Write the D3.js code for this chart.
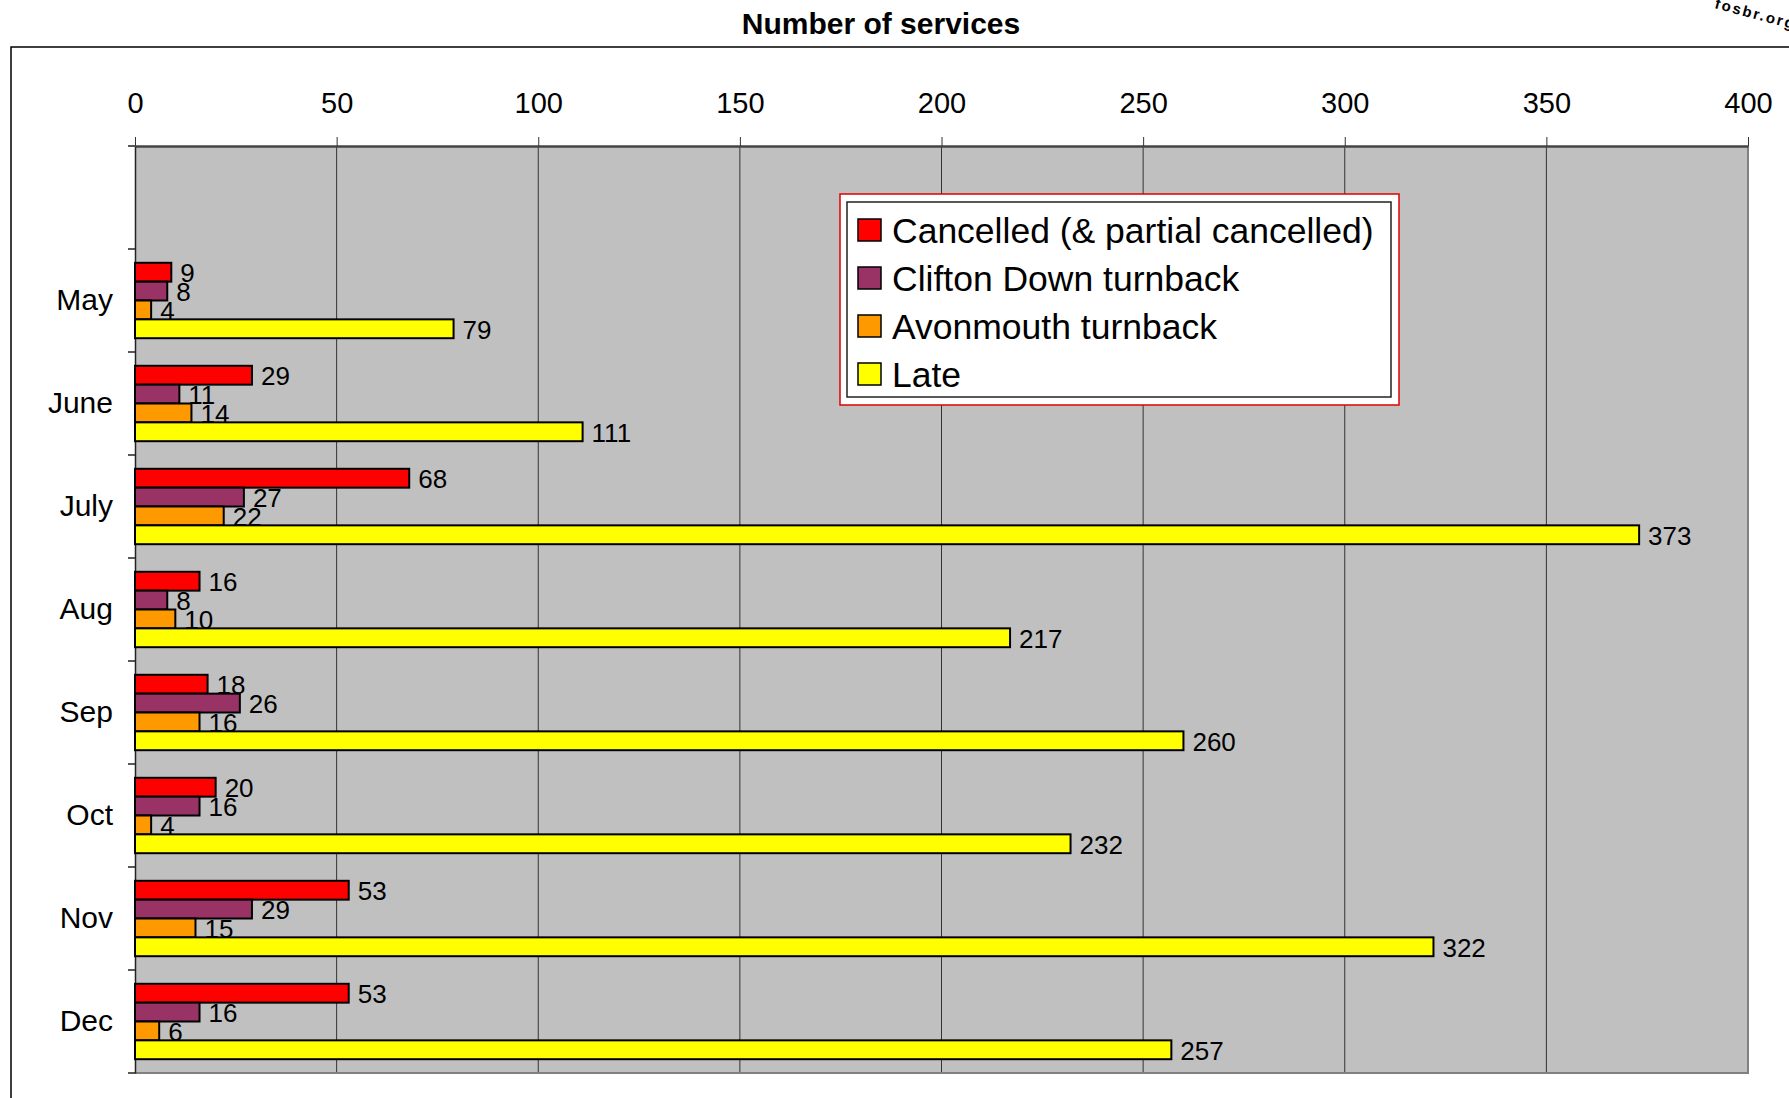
<!DOCTYPE html>
<html>
<head>
<meta charset="utf-8">
<script src="https://cdn.jsdelivr.net/npm/d3@7"></script>
<style>
  body { margin: 0; background: #fff; }
  svg { display: block; font-family: "Liberation Sans", Arial, sans-serif; }
</style>
</head>
<body>
<div id="chart"></div>
<script>
// data
var months = ["May", "June", "July", "Aug", "Sep", "Oct", "Nov", "Dec"];
var seriesNames = ["Cancelled (& partial cancelled)", "Clifton Down turnback", "Avonmouth turnback", "Late"];
var cancelled = [9, 29, 68, 16, 18, 20, 53, 53];
var clifton = [8, 11, 27, 8, 26, 16, 29, 16];
var avonmouth = [4, 14, 22, 10, 16, 4, 15, 6];
var late = [79, 111, 373, 217, 260, 232, 322, 257];
var xTicks = [0, 50, 100, 150, 200, 250, 300, 350, 400];
var colors = ["#FF0000", "#993366", "#FF9900", "#FFFF00"];

var series = [cancelled, clifton, avonmouth, late];

var W = 1789, H = 1098;
var margin = {top: 146, left: 135};
var plotW = 1613, plotH = 927;

var svg = d3.select("#chart").append("svg")
    .attr("width", W)
    .attr("height", H);

// outer frame
svg.append("path")
    .attr("d", "M11," + H + "V47H" + W)
    .attr("fill", "none")
    .attr("stroke", "#000")
    .attr("stroke-width", 1.5);

// title
svg.append("text")
    .attr("x", 881)
    .attr("y", 34)
    .attr("text-anchor", "middle")
    .style("font-weight", "bold")
    .style("font-size", "30px")
    .text("Number of services");

// watermark
svg.append("text")
    .attr("transform", "translate(1714,8) rotate(15)")
    .style("font-weight", "bold")
    .style("font-size", "15px")
    .style("letter-spacing", "2px")
    .text("fosbr.org");

var g = svg.append("g")
    .attr("transform", "translate(" + margin.left + "," + margin.top + ")");

var x = d3.scaleLinear()
    .domain([0, 400])
    .range([0, plotW]);

// first slot is the empty row of the sheet
var y = d3.scaleBand()
    .domain([""].concat(months))
    .range([0, plotH])
    .padding(0);

var inner = d3.scaleBand()
    .domain(d3.range(series.length))
    .range([y.bandwidth() * 0.134, y.bandwidth() * 0.866])
    .padding(0);

// plot background
g.append("rect")
    .attr("width", x(400))
    .attr("height", plotH)
    .attr("fill", "#C0C0C0");

// gridlines
g.selectAll(".grid")
    .data(xTicks.slice(1, -1))
    .enter().append("line")
    .attr("x1", function(d) { return x(d); })
    .attr("x2", function(d) { return x(d); })
    .attr("y1", 0)
    .attr("y2", plotH)
    .attr("stroke", "#333")
    .attr("stroke-width", 1);

// plot border right / bottom
g.append("path")
    .attr("d", "M" + x(400) + ",0V" + plotH + "H0")
    .attr("fill", "none")
    .attr("stroke", "#808080")
    .attr("stroke-width", 2);

// x axis on top
var xAxis = g.append("g")
    .call(d3.axisTop(x).tickValues(xTicks).tickSize(9).tickSizeOuter(0).tickPadding(24));
xAxis.select(".domain").attr("stroke", "#444").attr("stroke-width", 2.5);
xAxis.selectAll(".tick line").attr("stroke", "#333");
xAxis.selectAll("text")
    .style("font-size", "29px")
    .attr("fill", "#000");

// y axis
var yAxis = g.append("g")
    .call(d3.axisLeft(y).tickSize(0).tickPadding(22));
yAxis.select(".domain").attr("stroke", "#222").attr("stroke-width", 1.5);
yAxis.selectAll("text")
    .style("font-size", "30px")
    .attr("fill", "#000");

// category boundary ticks
var bounds = y.domain().map(function(d) { return y(d); }).concat([plotH]);
g.selectAll(".ytick")
    .data(bounds)
    .enter().append("line")
    .attr("x1", -7)
    .attr("x2", 0)
    .attr("y1", function(d) { return d; })
    .attr("y2", function(d) { return d; })
    .attr("stroke", "#222")
    .attr("stroke-width", 1.5);

// bars
series.forEach(function(vals, s) {
    var grp = g.append("g");
    grp.selectAll("rect")
        .data(vals)
        .enter().append("rect")
        .attr("x", 0)
        .attr("y", function(d, i) { return y(months[i]) + inner(s); })
        .attr("width", function(d) { return x(d); })
        .attr("height", inner.bandwidth())
        .attr("fill", colors[s])
        .attr("stroke", "#000")
        .attr("stroke-width", 2);
    grp.selectAll("text")
        .data(vals)
        .enter().append("text")
        .attr("x", function(d) { return x(d) + 9; })
        .attr("y", function(d, i) { return y(months[i]) + inner(s) + inner.bandwidth() / 2 + 1; })
        .attr("dominant-baseline", "central")
        .style("font-size", "26px")
        .text(function(d) { return d; });
});

// legend
var lg = svg.append("g").attr("transform", "translate(840,194)");
lg.append("rect")
    .attr("width", 559).attr("height", 211)
    .attr("fill", "#fff")
    .attr("stroke", "#E00000")
    .attr("stroke-width", 1.5);
lg.append("rect")
    .attr("x", 7).attr("y", 8)
    .attr("width", 544).attr("height", 195)
    .attr("fill", "#fff")
    .attr("stroke", "#222")
    .attr("stroke-width", 1.5);
var items = lg.selectAll(".item")
    .data(seriesNames)
    .enter().append("g")
    .attr("transform", function(d, i) { return "translate(18," + (36 + i * 48) + ")"; });
items.append("rect")
    .attr("x", 0).attr("y", -11)
    .attr("width", 23).attr("height", 22)
    .attr("fill", function(d, i) { return colors[i]; })
    .attr("stroke", "#000")
    .attr("stroke-width", 1.5);
items.append("text")
    .attr("x", 34)
    .attr("y", 1)
    .attr("dominant-baseline", "central")
    .style("font-size", "35.5px")
    .text(function(d) { return d; });
</script>
</body>
</html>
